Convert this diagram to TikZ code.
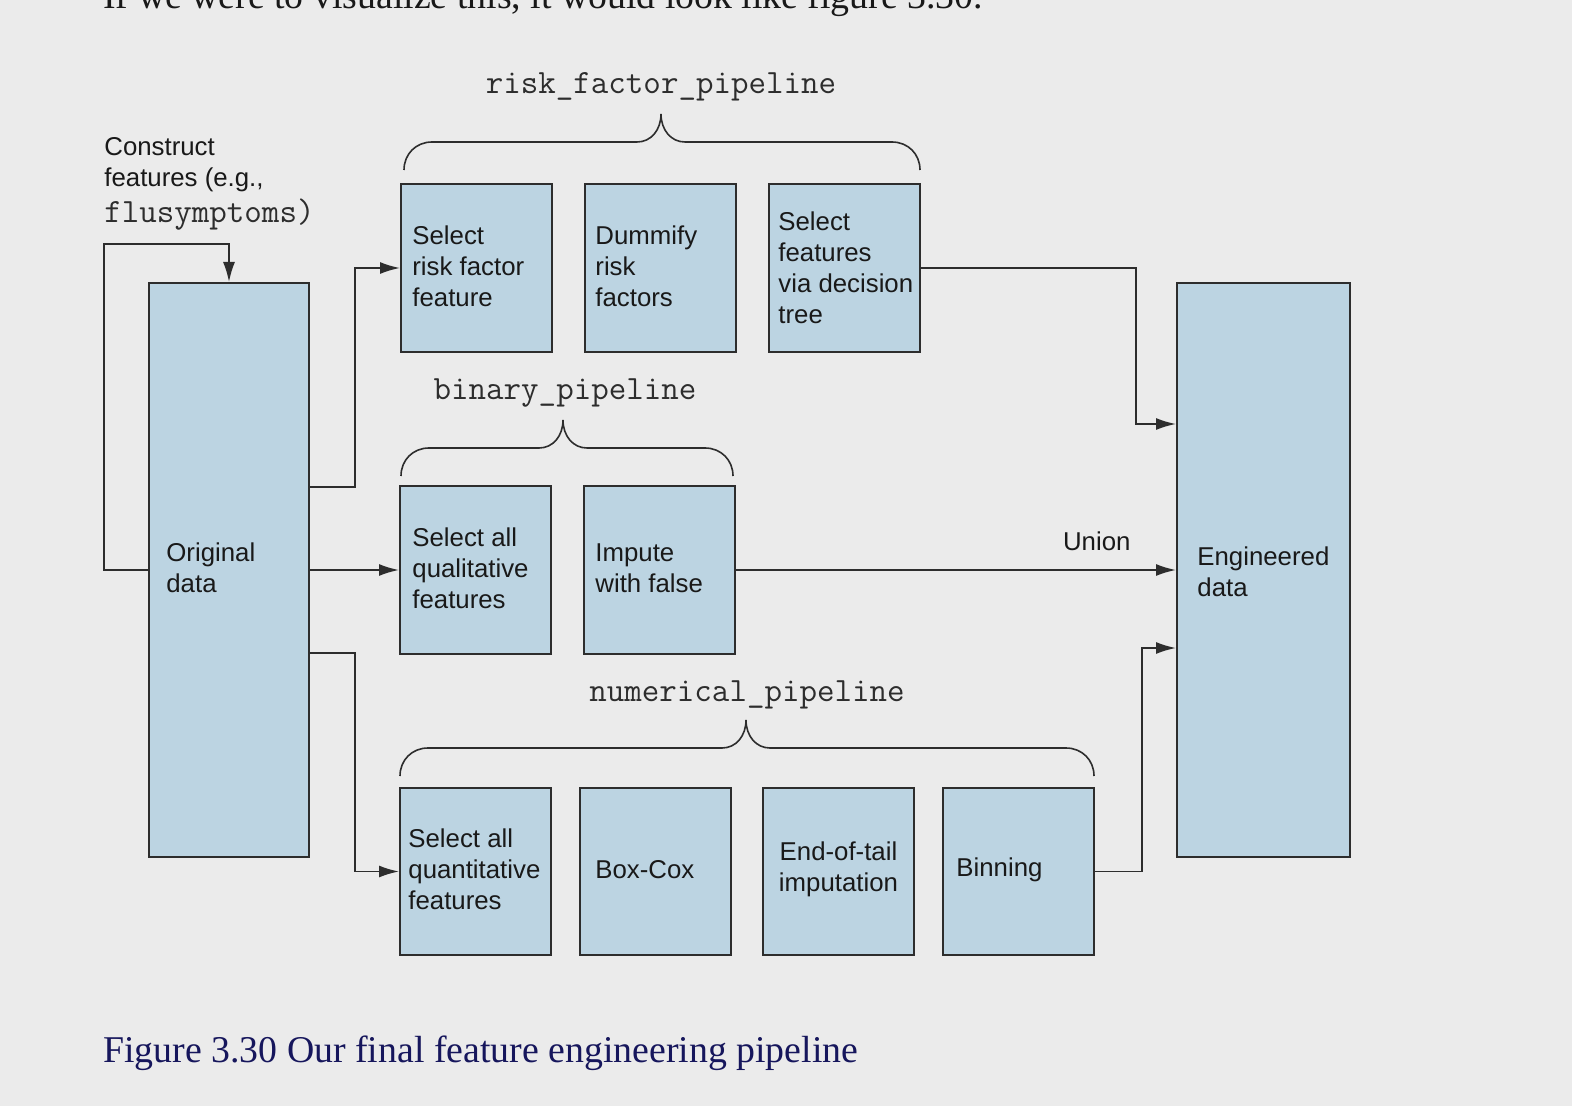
\documentclass[tikz,border=0pt]{standalone}
\usepackage{fontspec}
\setmainfont{Liberation Serif}
\setsansfont{Liberation Sans}
\usetikzlibrary{arrows.meta,calc}
\definecolor{bg}{RGB}{235,235,235}
\definecolor{boxfill}{RGB}{188,212,226}
\definecolor{edge}{RGB}{45,45,45}
\definecolor{navy}{RGB}{22,22,92}
\definecolor{ink}{RGB}{25,25,25}
\definecolor{monoink}{RGB}{45,45,45}
\newcommand\boxfont{\sffamily\fontsize{12.9pt}{15.5pt}\selectfont}
\newcommand\pipefont{\ttfamily\fontsize{17pt}{18pt}\selectfont}
\newcommand\capfont{\rmfamily\fontsize{18.9pt}{22pt}\selectfont}
\newcommand\pipebrace[5]{%
  \draw[brace] (#1,{#4+28}) .. controls (#1,{#4+12}) and ({#1+12},#4) .. ({#1+28},#4)
    -- ({#3-24},#4) .. controls ({#3-10},#4) and (#3,{#4-12}) .. (#3,#5)
    .. controls (#3,{#4-12}) and ({#3+10},#4) .. ({#3+24},#4)
    -- ({#2-28},#4) .. controls ({#2-12},#4) and (#2,{#4+12}) .. (#2,{#4+28});}
\tikzset{
  pbox/.style n args={2}{draw=edge, fill=boxfill, line width=1pt, inner sep=0pt,
    minimum width=#1, minimum height=#2},
  txt/.style={inner sep=0pt, align=left, font=\boxfont, text=ink},
  pipe/.style={inner sep=0pt, font=\pipefont, text=monoink},
  brace/.style={draw=edge, line width=0.8pt},
  conn/.style={draw=edge, line width=0.9pt, -{Latex[length=10pt,width=6pt]}},
}
\begin{document}
\begin{tikzpicture}[x=0.5pt,y=-0.5pt]
\useasboundingbox (0,0) rectangle (1572,1106);
\clip (0,0) rectangle (1572,1106);
\fill[bg] (0,0) rectangle (1572,1106);

% intro line (cut off at the top, as in the reference)
\node[anchor=base west, inner sep=0pt, font=\capfont, text=ink] (intro) at (103,9)
  {If we were to visualize this, it would look like figure 3.30.};

% boxes
\node[pbox={80pt}{287pt}] (orig) at (229,570) {};
\node[pbox={86.5pt}{287pt}] (eng) at (1263.5,570) {};
\node[pbox={75.5pt}{84pt}] (r1) at (476.5,268) {};
\node[pbox={75.5pt}{84pt}] (r2) at (660.5,268) {};
\node[pbox={75.5pt}{84pt}] (r3) at (844.5,268) {};
\node[pbox={75.5pt}{84pt}] (q1) at (475.5,570) {};
\node[pbox={75.5pt}{84pt}] (q2) at (659.5,570) {};
\node[pbox={75.5pt}{83.5pt}] (n1) at (475.5,871.5) {};
\node[pbox={75.5pt}{83.5pt}] (n2) at (655.5,871.5) {};
\node[pbox={75.5pt}{83.5pt}] (n3) at (838.5,871.5) {};
\node[pbox={75.5pt}{83.5pt}] (n4) at (1018.5,871.5) {};

% box texts
\node[txt, anchor=west] (origt) at ([xshift=9pt,yshift=1pt]orig.west) {Original\\data};
\node[txt, anchor=west] (engt) at ([xshift=10.5pt,yshift=-1pt]eng.west) {Engineered\\data};
\node[txt, anchor=west] (r1t) at ([xshift=6pt,yshift=1pt]r1.west) {Select\\risk factor\\feature};
\node[txt, anchor=west] (r2t) at ([xshift=5.5pt,yshift=1pt]r2.west) {Dummify\\risk\\factors};
\node[txt, anchor=west] (r3t) at ([xshift=5pt]r3.west) {Select\\features\\via decision\\tree};
\node[txt, anchor=west] (q1t) at ([xshift=6.5pt,yshift=1pt]q1.west) {Select all\\qualitative\\features};
\node[txt, anchor=west] (q2t) at ([xshift=6pt,yshift=1pt]q2.west) {Impute\\with false};
\node[txt, anchor=west] (n1t) at ([xshift=4.5pt,yshift=1pt]n1.west) {Select all\\quantitative\\features};
\node[txt, anchor=west] (n2t) at ([xshift=8pt,yshift=1pt]n2.west) {Box-Cox};
\node[txt, align=center] (n3t) at ([yshift=1pt]n3.center) {End-of-tail\\imputation};
\node[txt, anchor=west] (n4t) at ([xshift=7pt,yshift=1pt]n4.west) {Binning};

% construct label
\node[txt, anchor=north west] (cons) at (104,137)
  {Construct\\features (e.g.,\\[2.5pt]{\pipefont\color{monoink}flusymptoms)}};

% braces and pipeline names
\pipebrace{404}{920}{661}{142}{114}
\pipebrace{401}{733}{563}{448}{420}
\pipebrace{400}{1094}{746}{748}{720}
\node[pipe, anchor=base] (rfp) at (661,94) {risk\_factor\_pipeline};
\node[pipe, anchor=base] (bp) at (565,400) {binary\_pipeline};
\node[pipe, anchor=base] (np) at (747,701) {numerical\_pipeline};

% connectors
\coordinate (loopc) at (104,244);
\draw[conn] (orig.west) -| (loopc) -| (orig.north);
\draw[conn] ([yshift=41.5pt]orig.east) -- ++(45,0) |- (r1.west);
\draw[conn] (orig.east) -- (q1.west);
\draw[conn] ([yshift=-41.5pt]orig.east) -- ++(45,0) |- (n1.west);
\draw[conn] (r3.east) -- ++(215,0) |- ([yshift=73pt]eng.west);
\draw[conn] (q2.east) -- node[pos=0.82, above=9pt, txt] (union) {Union} (eng.west);
\draw[conn] (n4.east) -- ++(47,0) |- ([yshift=-39pt]eng.west);

% caption
\node[anchor=base west, inner sep=0pt, font=\capfont, text=navy] (cap) at (103,1062)
  {Figure 3.30 Our final feature engineering pipeline};
\end{tikzpicture}
\end{document}
